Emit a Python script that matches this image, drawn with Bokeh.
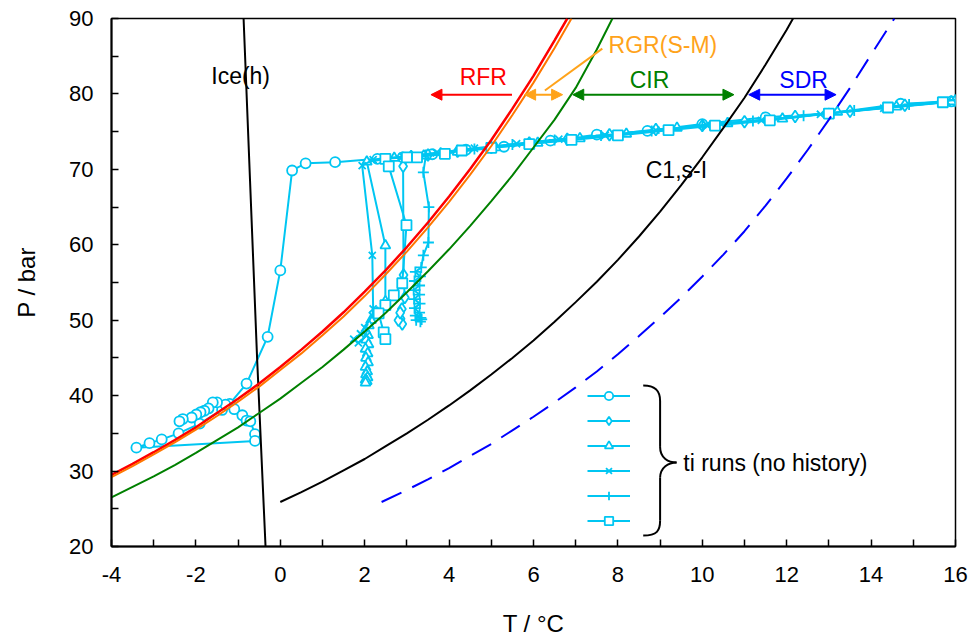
from bokeh.plotting import figure
from bokeh.models import Range1d, FixedTicker, Label, Arrow, NormalHead, Legend, LegendItem
from bokeh.embed import file_html
from bokeh.resources import INLINE

FONT = "Liberation Sans"
CYAN = "#00C6F2"

# ---------------- data ----------------
x_ticks = [-4, -2, 0, 2, 4, 6, 8, 10, 12, 14, 16]
x_tick_labels = ["-4", "-2", "0", "2", "4", "6", "8", "10", "12", "14", "16"]
x_minor = [-3, -1, 1, 3, 5, 7, 9, 11, 13, 15]
y_ticks = [20, 30, 40, 50, 60, 70, 80, 90]
y_tick_labels = ["20", "30", "40", "50", "60", "70", "80", "90"]
y_minor = [25, 35, 45, 55, 65, 75, 85]

ice_T = [-0.87, -0.55, -0.35]
ice_P = [90.0, 45.0, 20.0]

rfr_T = [-4, -3.5, -3, -2.5, -2, -1.5, -1, -0.5, 0, 0.5, 1, 1.5, 2, 2.5, 3, 3.5, 4, 4.5, 5, 5.5, 6, 6.5, 6.8]
rfr_P = [29.5, 30.95, 32.5, 34.1, 35.8, 37.7, 39.6, 41.6, 43.8, 46.1, 48.5, 51.05, 53.8, 56.65, 59.7,
         62.95, 66.4, 70.05, 73.9, 78.05, 82.4, 87.1, 90.0]

rgr_T = [-4, -3.5, -3, -2.5, -2, -1.5, -1, -0.5, 0, 0.5, 1, 1.5, 2, 2.5, 3, 3.5, 4, 4.5, 5, 5.5, 6, 6.5, 6.9]
rgr_P = [29.2, 30.65, 32.2, 33.8, 35.5, 37.3, 39.2, 41.2, 43.4, 45.6, 48.0, 50.5, 53.2, 56.1, 59.1,
         62.3, 65.7, 69.3, 73.1, 77.2, 81.5, 86.1, 90.0]

cir_T = [-4, -3.5, -3, -2.5, -2, -1.5, -1, -0.5, 0, 0.5, 1, 1.5, 2, 2.5, 3, 3.5, 4, 4.5, 5, 5.5, 6, 6.5, 7, 7.5, 7.87]
cir_P = [26.5, 27.9, 29.3, 30.8, 32.4, 34.1, 35.8, 37.7, 39.6, 41.7, 43.8, 46.1, 48.5, 51.0, 53.7,
         56.5, 59.4, 62.5, 65.8, 69.2, 72.9, 76.6, 80.8, 85.9, 90.0]

c1_T = [0, 0.5, 1, 1.5, 2, 2.5, 3, 3.5, 4, 4.5, 5, 5.5, 6, 6.5, 7, 7.5, 8, 8.5, 9, 9.5, 10, 10.5, 11, 11.5, 12, 12.15]
c1_P = [25.9, 27.2, 28.6, 30.1, 31.6, 33.3, 35.0, 36.8, 38.7, 40.7, 42.8, 45.0, 47.3, 49.8, 52.4,
        55.1, 58.0, 61.1, 64.4, 67.9, 71.6, 75.5, 79.5, 83.9, 88.5, 90.0]

sdr_T = [2.4, 3, 3.5, 4, 4.5, 5, 5.5, 6, 6.5, 7, 7.5, 8, 8.5, 9, 9.5, 10, 10.5, 11, 11.5, 12, 12.5, 13, 13.5, 14, 14.55]
sdr_P = [25.9, 27.5, 28.9, 30.4, 32.0, 33.6, 35.4, 37.2, 39.1, 41.1, 43.2, 45.5, 47.9, 50.4, 53.0,
         55.8, 58.7, 61.8, 65.2, 68.8, 72.6, 76.6, 80.8, 85.2, 90.0]

# ti runs (no history)
run1_T = [15.9, 14.7, 13.0, 11.5, 10.0, 8.7, 7.5, 6.4, 5.3, 4.4, 3.6, 2.9, 2.3, 1.3, 0.6, 0.28,
          0.0, -0.3, -0.8, -1.2, -1.09, -0.9, -0.8, -0.71, -0.6, -0.6, -3.41, -3.1, -2.81, -2.41,
          -1.91, -1.38, -1.3, -1.5, -1.6, -1.7, -1.8, -1.89, -1.99, -2.1, -2.31, -2.39]
run1_P = [79.0, 78.7, 77.4, 76.9, 76.0, 75.1, 74.6, 73.8, 73.0, 72.6, 72.0, 71.6, 71.4, 70.95, 70.8, 69.85,
          56.6, 47.8, 41.6, 38.9, 38.2, 37.4, 36.7, 36.6, 34.9, 34.0, 33.1, 33.7, 34.2, 35.0,
          36.3, 38.1, 38.8, 39.1, 39.1, 38.3, 38.0, 37.8, 37.5, 37.1, 36.9, 36.6]

run2_T = [16.0, 14.8, 13.5, 12.2, 11.0, 10.0, 8.9, 7.8, 6.8, 5.9, 5.0, 4.2, 3.5, 3.1, 2.91,
          2.92, 2.95, 2.88, 2.85, 2.89, 2.8, 2.84]
run2_P = [79.1, 78.5, 77.7, 77.0, 76.3, 75.8, 75.3, 74.6, 74.0, 73.5, 72.9, 72.4, 71.9, 71.7, 70.4,
          56.0, 53.0, 51.5, 50.2, 49.5, 50.0, 51.0]

run3_T = [15.9, 14.6, 13.2, 11.9, 10.6, 9.4, 8.2, 7.1, 6.1, 5.1, 4.2, 3.4, 2.7, 2.05,
          2.49, 2.49, 2.3, 2.15, 2.1, 2.02, 2.08, 2.03, 2.09, 2.02, 2.07, 2.03, 2.08, 2.02, 2.06,
          2.03, 2.07, 2.02, 2.05, 2.02]
run3_P = [79.0, 78.3, 77.6, 76.7, 76.1, 75.5, 74.7, 74.1, 73.5, 72.9, 72.3, 71.8, 71.5, 71.0,
          59.9, 52.5, 51.0, 50.0, 49.3, 48.6, 48.0, 47.4, 46.8, 46.2, 45.6, 45.0, 44.4, 43.8, 43.2,
          42.8, 42.4, 42.1, 41.9, 41.7]

run4_T = [15.8, 14.3, 12.8, 11.4, 10.1, 8.9, 7.7, 6.6, 5.6, 4.6, 3.7, 2.9, 2.2, 1.94,
          2.18, 2.2, 2.18, 2.0, 1.9, 1.74, 1.85, 2.05]
run4_P = [78.9, 78.1, 77.3, 76.5, 75.9, 75.2, 74.5, 74.0, 73.4, 72.8, 72.2, 71.7, 71.3, 70.5,
          58.6, 51.5, 50.6, 49.0, 48.2, 47.5, 47.0, 48.0]

run5_T = [16.0, 14.9, 13.6, 12.4, 11.2, 10.0, 8.8, 7.6, 6.5, 5.5, 4.6, 3.8, 3.45,
          3.39, 3.52, 3.51, 3.39, 3.34, 3.2, 3.32, 3.18, 3.3, 3.16, 3.3, 3.17, 3.31, 3.18,
          3.3, 3.2, 3.33, 3.22, 3.35, 3.32]
run5_P = [79.2, 78.6, 77.8, 77.1, 76.4, 75.8, 75.1, 74.5, 73.9, 73.3, 72.7, 72.2, 71.9,
          69.6, 65.0, 60.3, 58.6, 57.0, 56.4, 55.8, 55.2, 54.6, 54.0, 53.4, 52.8, 52.2, 51.6,
          51.0, 50.6, 50.3, 50.0, 50.1, 49.8]

run6_T = [15.7, 14.4, 13.0, 11.6, 10.3, 9.2, 8.0, 6.9, 5.9, 5.0, 4.3, 3.9, 3.24, 3.0, 2.49,
          2.57, 2.99, 2.89, 2.69, 2.49, 2.33, 2.45, 2.49]
run6_P = [78.9, 78.2, 77.4, 76.5, 75.8, 75.2, 74.5, 73.9, 73.35, 72.85, 72.5, 72.06, 71.6, 71.6, 71.4,
          70.4, 62.6, 54.9, 53.3, 52.0, 50.9, 48.4, 47.5]

runs = [(run1_T, run1_P, "circle", 10), (run2_T, run2_P, "diamond", 12),
        (run3_T, run3_P, "triangle", 10), (run4_T, run4_P, "x", 10),
        (run5_T, run5_P, "cross", 11), (run6_T, run6_P, "square", 10)]

# ---------------- figure ----------------
p = figure(width=973, height=644, x_range=Range1d(-4, 16), y_range=Range1d(20, 90),
           output_backend="svg", toolbar_location=None,
           min_border_left=111, min_border_right=18, min_border_top=18, min_border_bottom=98)
p.xgrid.visible = False
p.ygrid.visible = False
p.outline_line_color = "black"
p.outline_line_width = 1.5
p.background_fill_color = "white"
p.border_fill_color = "white"

p.xaxis.ticker = FixedTicker(ticks=x_ticks, minor_ticks=x_minor)
p.yaxis.ticker = FixedTicker(ticks=y_ticks, minor_ticks=y_minor)
p.xaxis.major_label_overrides = dict(zip(x_ticks, x_tick_labels))
p.yaxis.major_label_overrides = dict(zip(y_ticks, y_tick_labels))
for ax in (p.xaxis, p.yaxis):
    ax.axis_line_width = 2
    ax.axis_line_color = "black"
    ax.major_tick_in = 7
    ax.major_tick_out = 0
    ax.minor_tick_in = 7
    ax.minor_tick_out = 0
    ax.major_tick_line_width = 1.5
    ax.minor_tick_line_width = 1.5
    ax.major_tick_line_color = "black"
    ax.minor_tick_line_color = "black"
    ax.major_label_text_font = FONT
    ax.major_label_text_font_size = "22px"
    ax.major_label_text_color = "black"
    ax.axis_label_text_font = FONT
    ax.axis_label_text_font_size = "24px"
    ax.axis_label_text_font_style = "normal"
    ax.axis_label_text_color = "black"
p.xaxis.major_label_standoff = 20
p.yaxis.major_label_standoff = 18
p.xaxis.axis_label = "T / °C"
p.yaxis.axis_label = "P / bar"
p.xaxis.axis_label_standoff = 25
p.yaxis.axis_label_standoff = 26

# ti runs
legend_items = []
for T, P, mk, sz in runs:
    lr = p.line(T, P, line_color=CYAN, line_width=2)
    sr = p.scatter(T, P, marker=mk, size=sz, line_color=CYAN, fill_color="white", line_width=1.8)
    legend_items.append(LegendItem(label="", renderers=[lr, sr]))

# equilibrium / boundary curves
p.line(ice_T, ice_P, line_color="black", line_width=2)
p.line(rfr_T, rfr_P, line_color="#FF0000", line_width=2.5)
p.line(rgr_T, rgr_P, line_color="#FF7700", line_width=2)
p.line(cir_T, cir_P, line_color="#008000", line_width=2)
p.line(c1_T, c1_P, line_color="black", line_width=2)
p.line(sdr_T, sdr_P, line_color="#0000FF", line_width=2, line_dash="22 12")

legend = Legend(items=legend_items, location=(476, 15), glyph_width=43, glyph_height=21,
                spacing=4, padding=0, margin=0, label_standoff=0, label_width=0,
                label_height=0, border_line_alpha=0, background_fill_alpha=0)
p.add_layout(legend)

# brace
BR = "black"
p.bezier(x0=[8.60, 9.0, 9.39, 9.0], y0=[41.35, 33.2, 31.14, 23.4],
         x1=[9.0, 9.39, 9.0, 8.60], y1=[39.3, 31.14, 29.1, 21.46],
         cx0=[8.93, 9.0, 9.2, 9.0], cy0=[41.35, 31.7, 31.14, 22.1],
         cx1=[9.0, 9.2, 9.0, 8.93], cy1=[40.4, 31.14, 30.5, 21.46],
         line_color=BR, line_width=2)
p.segment(x0=[9.0, 9.0], y0=[39.3, 29.1], x1=[9.0, 9.0], y1=[33.2, 23.4], line_color=BR, line_width=2)

# arrows at P ~ 80
def arrow(x0, x1, y, color, both):
    head = lambda: NormalHead(size=11, fill_color=color, line_color=color, line_width=1)
    a = Arrow(x_start=x0, y_start=y, x_end=x1, y_end=y, line_color=color, line_width=2,
              end=head(), start=head() if both else None)
    p.add_layout(a)

arrow(5.49, 3.57, 79.9, "#FF0000", False)
arrow(5.79, 6.69, 79.9, "#FFA31A", True)
arrow(6.93, 10.75, 79.9, "#008000", True)
arrow(11.1, 13.17, 79.9, "#0000FF", True)
p.line([6.27, 7.63], [80.45, 86.0], line_color="#FFA31A", line_width=2)

def label(x, y, text, color, align="center"):
    p.add_layout(Label(x=x, y=y, text=text, text_font=FONT, text_font_size="23px",
                       text_color=color, text_align=align, text_baseline="middle"))

label(4.81, 82.3, "RFR", "#FF0000")
label(7.78, 86.55, "RGR(S-M)", "#FFA31A", "left")
label(8.75, 81.8, "CIR", "#008000")
label(12.4, 81.9, "SDR", "#0000FF")
label(8.66, 69.85, "C1,s-I", "black", "left")
label(-0.94, 82.4, "Ice(h)", "black")
label(9.55, 31.1, "ti runs (no history)", "black", "left")

open("out.html", "w").write(file_html(p, INLINE))
